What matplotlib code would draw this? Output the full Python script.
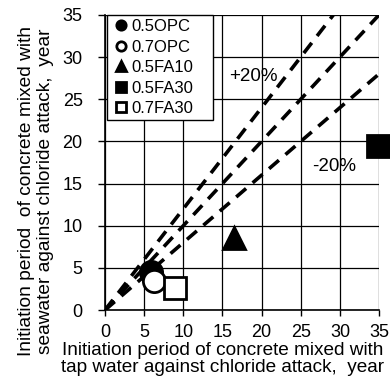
import matplotlib
matplotlib.use("Agg")
import matplotlib.pyplot as plt
import numpy as np

plt.rcParams["font.family"] = ["Liberation Sans", "DejaVu Sans"]

# Data (tap water, seawater), years
series_names = ["0.5OPC", "0.7OPC", "0.5FA10", "0.5FA30", "0.7FA30"]
tap_water = [5.9, 6.3, 16.5, 34.8, 9.0]
seawater = [4.5, 3.4, 8.5, 19.4, 2.6]
markers = ["o", "o", "^", "s", "s"]
filled = [True, False, True, True, False]

ratio_lines = [1.2, 1.0, 0.8]
ratio_labels = ["+20%", "-20%"]
ticks = np.arange(0, 40, 5)

fig = plt.figure(figsize=(3.9, 3.81), dpi=100)
ax = fig.add_axes([0.269, 0.186, 0.703, 0.775])

# reference lines y = k x
xline = np.array([0.0, 35.0])
for k in ratio_lines:
    yline = np.clip(k * xline, 0, 35)
    xl = yline / k
    ax.plot(xl, yline, color="black", lw=2.6, ls=(0, (3.6, 2.4)), zorder=2)

ax.text(15.8, 27.7, ratio_labels[0], fontsize=13.5, ha="left", va="center", zorder=3)
ax.text(26.4, 17.0, ratio_labels[1], fontsize=13.5, ha="left", va="center", zorder=3)

for name, x, y, m, f in zip(series_names, tap_water, seawater, markers, filled):
    ax.plot([x], [y], ls="none", marker=m, ms=16,
            markerfacecolor="black" if f else "white",
            markeredgecolor="black", markeredgewidth=2, label=name,
            zorder=4, clip_on=False)

ax.set_xlim(0, 35)
ax.set_ylim(0, 35)
ax.set_xticks(ticks)
ax.set_yticks(ticks)
ax.tick_params(labelsize=13, direction="out", width=1, colors="black")
ax.tick_params(axis="x", length=4, pad=6)
ax.tick_params(axis="y", length=5, pad=11)
ax.grid(True, color="black", lw=0.9)
ax.set_axisbelow(True)
for s in ax.spines.values():
    s.set_visible(False)
ax.spines["left"].set_visible(True)
ax.spines["bottom"].set_visible(True)
ax.spines["left"].set_linewidth(1.2)
ax.spines["bottom"].set_linewidth(1.2)

fig.text(0.571, 0.058,
         "Initiation period of concrete mixed with\ntap water against chloride attack,  year",
         fontsize=13.7, ha="center", va="center", linespacing=1.05)
fig.text(0.092, 0.499,
         "Initiation period  of concrete mixed with\nseawater against chloride attack,  year",
         fontsize=13.8, ha="center", va="center", rotation=90, linespacing=1.15)

leg = ax.legend(loc="upper left", bbox_to_anchor=(0.007, 0.0, 0.387, 1.0),
                mode="expand", fontsize=12, markerscale=0.42,
                handlelength=1.2, handletextpad=0.0, borderaxespad=0.0,
                labelspacing=0.33, borderpad=0.25, fancybox=False, framealpha=1,
                edgecolor="black")
leg.get_frame().set_linewidth(1.0)
leg.set_zorder(5)

fig.savefig("out.png", dpi=100)
